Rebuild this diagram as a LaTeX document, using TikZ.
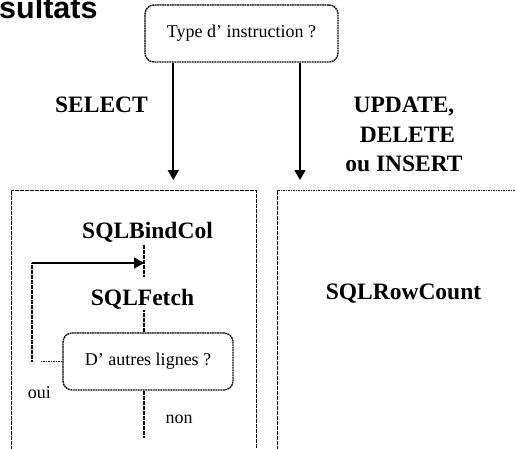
\documentclass[tikz,border=0pt]{standalone}
\usepackage{fontspec}
\setmainfont{Liberation Serif}
\newfontfamily\headfont{Liberation Sans}
\usetikzlibrary{arrows.meta}
\tikzset{
  dotline/.style={line width=1.4pt, dash pattern=on 1.8pt off 0.7pt},
  flow/.style={line width=1.7pt, -{Triangle[length=10pt,width=11pt]}},
  question/.style={draw, dotline, rounded corners=9pt, inner sep=0pt},
  panel/.style={draw, dotline, inner sep=0pt},
  call/.style={font=\fontsize{23.5}{26}\selectfont\bfseries, inner sep=0pt},
  note/.style={font=\fontsize{18}{20}\selectfont, inner sep=0pt},
}
\begin{document}
\begin{tikzpicture}[x=1pt,y=-1pt]
  \useasboundingbox (0,0) rectangle (515,448);
  \clip (0,0) rectangle (515,448);

  % heading (partly outside the frame)
  \node[font=\headfont\bfseries\fontsize{30.5}{34}\selectfont, anchor=base west, inner sep=0pt] (head) at (-1,18.5) {sultats};

  % decision on the statement kind
  \node[question, note, minimum width=193pt, minimum height=57pt] (kind) at (241.5,33.5) {Type d’ instruction ?};

  \coordinate (selin) at (173.3,180);
  \coordinate (dmlin) at (300,180);
  \draw[flow] (kind.south -| selin) -- (selin);
  \draw[flow] (kind.south -| dmlin) -- (dmlin);

  \node[call, anchor=base] (sel) at (101.5,112.5) {SELECT};
  \node[call, anchor=base] (upd) at (404,112.5) {UPDATE,};
  \node[call, anchor=base] (del) at (407.5,142) {DELETE};
  \node[call, anchor=base] (ins) at (404,171) {ou INSERT};

  % the two branches
  \node[panel, minimum width=245pt, minimum height=280pt, anchor=north west] (selpanel) at (11,190) {};
  \node[panel, minimum width=260pt, minimum height=280pt, anchor=north west] (dmlpanel) at (276.7,190) {};

  % SELECT branch: bind, fetch loop
  \node[call, anchor=base, text height=16pt, text depth=6pt] (bind) at (147.5,238.5) {SQLBindCol};
  \node[call, anchor=base, text height=28.6pt, text depth=4.5pt] (fetch) at (142.5,305.6) {SQLFetch};
  \node[question, note, minimum width=170pt, minimum height=57pt] (more) at (148,361.5) {D’ autres lignes ?};

  \coordinate (loopin) at (144,263);
  \coordinate (corner) at (32,263);
  \coordinate (retend) at (40,361.5);
  \coordinate (exit) at (144,438);

  \draw[dotline] (bind.south -| loopin) -- (fetch.north -| loopin);
  \draw[dotline] (fetch.south -| loopin) -- (more.north -| loopin);
  \draw[dotline] (more.south -| loopin) -- (exit);
  \draw[dotline] (more.west) -- (more.west -| retend);
  \draw[dotline] (corner |- more.west) -- (corner);
  \draw[flow] (corner) -- (loopin);

  \node[note, anchor=base] (yes) at (39.5,398) {oui};
  \node[note, anchor=base] (no) at (179,423.3) {non};

  % DML branch
  \node[call, anchor=base] (count) at (403.5,299) {SQLRowCount};
\end{tikzpicture}
\end{document}
